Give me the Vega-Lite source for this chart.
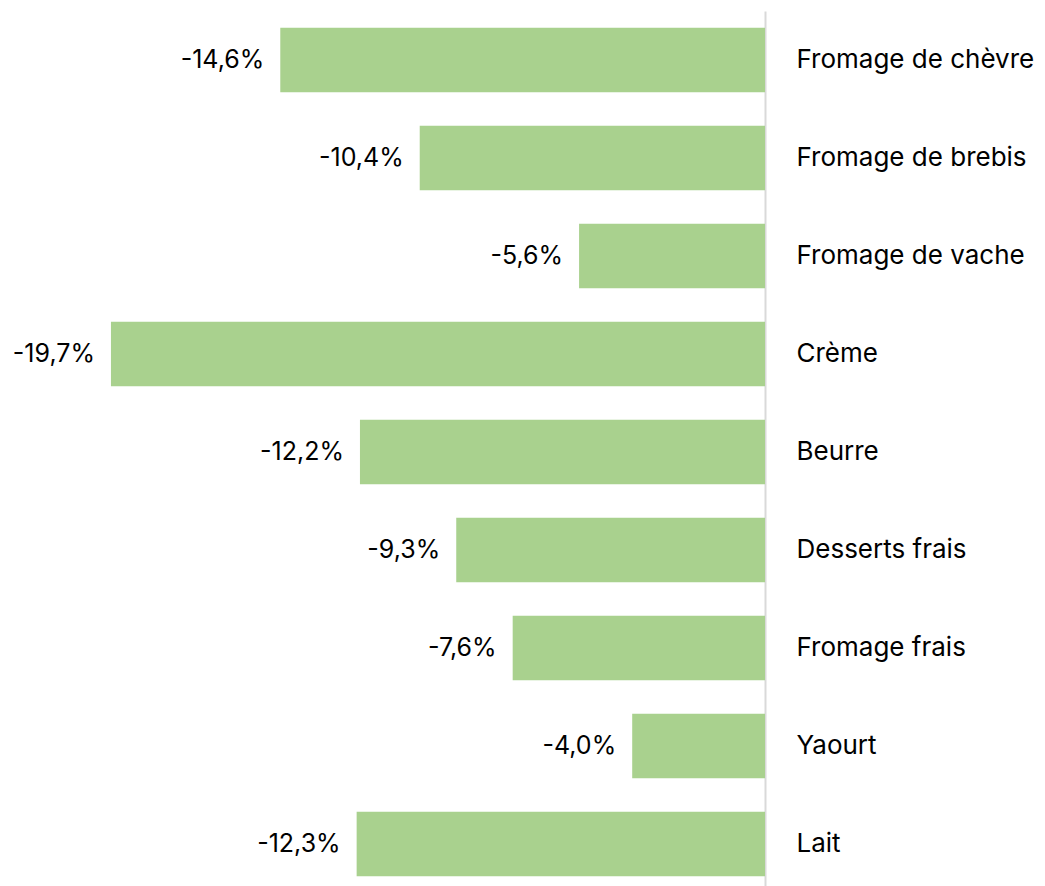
{
  "$schema": "https://vega.github.io/schema/vega-lite/v6.json",
  "autosize": {"type": "none"},
  "padding": {"left": 101, "top": 11, "right": 280, "bottom": 0},
  "width": 664,
  "height": 882,
  "background": "white",
  "config": {
    "view": {"stroke": null},
    "locale": {"number": {"decimal": ",", "thousands": " ", "grouping": [3], "currency": ["", " €"], "minus": "-"}},
    "font": "Inter"
  },
  "data": {
    "values": [
      {"produit": "Fromage de chèvre", "evolution": -0.146},
      {"produit": "Fromage de brebis", "evolution": -0.104},
      {"produit": "Fromage de vache", "evolution": -0.056},
      {"produit": "Crème", "evolution": -0.197},
      {"produit": "Beurre", "evolution": -0.122},
      {"produit": "Desserts frais", "evolution": -0.093},
      {"produit": "Fromage frais", "evolution": -0.076},
      {"produit": "Yaourt", "evolution": -0.040},
      {"produit": "Lait", "evolution": -0.123}
    ]
  },
  "encoding": {
    "y": {
      "field": "produit",
      "type": "nominal",
      "sort": null,
      "scale": {"paddingInner": 0.34, "paddingOuter": 0.17},
      "axis": {
        "orient": "right",
        "title": null,
        "ticks": false,
        "domain": true,
        "domainColor": "#d9d9d9",
        "domainWidth": 2,
        "labelPadding": 31,
        "labelFontSize": 26,
        "labelFontWeight": "normal",
        "labelColor": "#000000",
        "labelFont": "Inter",
        "labelLimit": 400
      }
    },
    "x": {
      "field": "evolution",
      "type": "quantitative",
      "scale": {"domain": [-0.2, 0], "nice": false},
      "axis": null
    }
  },
  "layer": [
    {"mark": {"type": "bar", "color": "#a9d18e"}},
    {
      "mark": {"type": "text", "align": "right", "baseline": "middle", "dx": -16, "fontSize": 25, "color": "#000000", "font": "Inter"},
      "encoding": {"text": {"field": "evolution", "type": "quantitative", "format": ".1%"}}
    }
  ]
}
